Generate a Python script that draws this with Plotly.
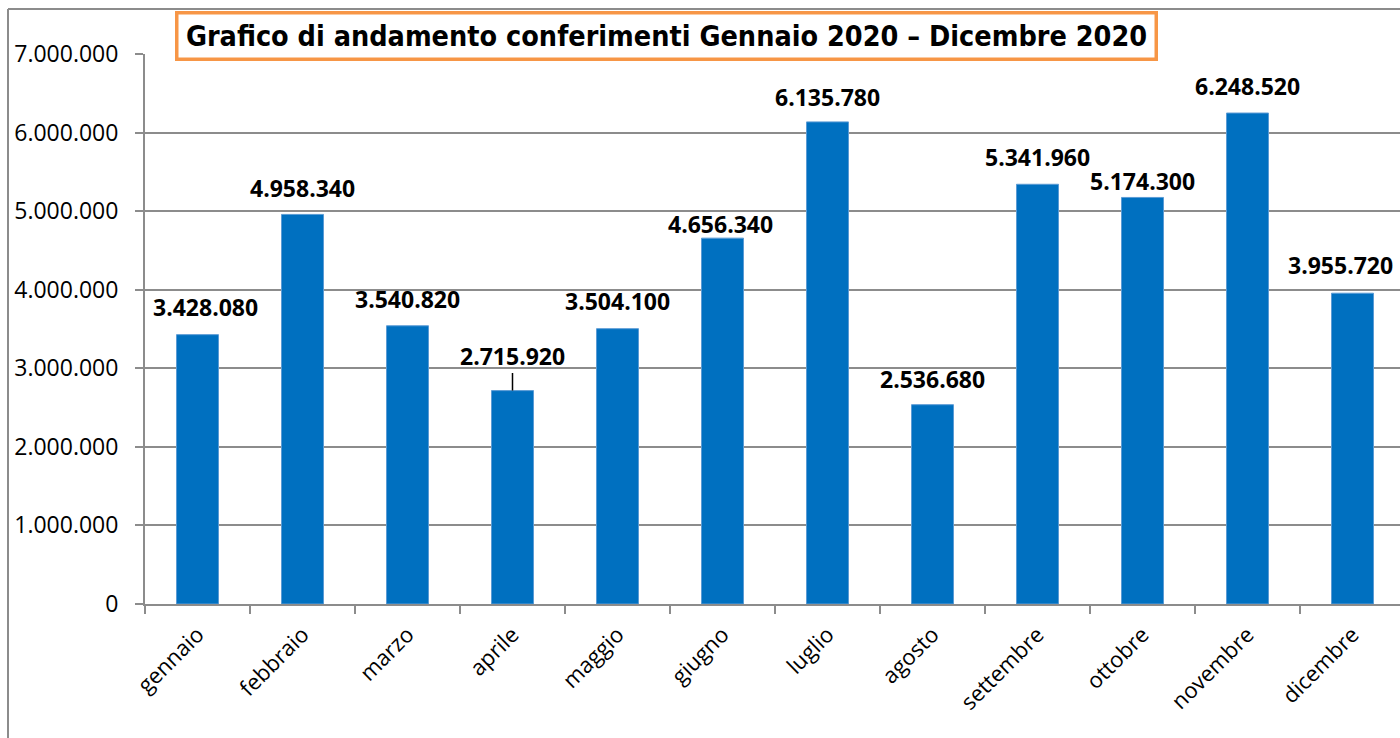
import plotly.graph_objects as go

months = ["gennaio", "febbraio", "marzo", "aprile", "maggio", "giugno",
          "luglio", "agosto", "settembre", "ottobre", "novembre", "dicembre"]
values = [3428080, 4958340, 3540820, 2715920, 3504100, 4656340,
          6135780, 2536680, 5341960, 5174300, 6248520, 3955720]
y_ticks = [0, 1000000, 2000000, 3000000, 4000000, 5000000, 6000000, 7000000]
title_text = "Grafico di andamento conferimenti Gennaio 2020 – Dicembre 2020"

# label placement (pixels above bar top, horizontal shift)
label_yshift = [28, 26, 27, 35, 28, 14, 25, 26, 27, 16, 27, 28]
label_xshift = [8, 0, 0, 0, 0, -2, 0, 0, 0, 0, 0, -12]
label_leader = [False, False, False, True, False, False, False, False, False, False, False, False]

W, H = 1400, 738
L, R, T, B = 145, 0, 54, 134
pw, ph = W - L - R, H - T - B


def px2paper_x(px):
    return (px - L) / pw


def px2paper_y(py):
    return (H - B - py) / ph


def fmt(v):
    return f"{v:,}".replace(",", ".")


grey = "#8c8c8c"
fig = go.Figure()
fig.add_trace(go.Bar(
    x=months, y=values, width=0.4,
    marker=dict(color="#0070C0", line=dict(color="#5B9BD5", width=1)),
    hoverinfo="x+y",
))

annotations = []
for m, v, ys, xs, lead in zip(months, values, label_yshift, label_xshift, label_leader):
    if lead:
        annotations.append(dict(
            x=m, y=v, xref="x", yref="y", text=fmt(v), showarrow=True,
            arrowhead=0, arrowwidth=1.5, arrowcolor="black", ax=xs, ay=-ys,
            font=dict(family="Open Sans", size=23, color="black", weight="bold"),
        ))
    else:
        annotations.append(dict(
            x=m, y=v, xref="x", yref="y", text=fmt(v), showarrow=False,
            yshift=ys, xshift=xs, yanchor="middle",
            font=dict(family="Open Sans", size=23, color="black", weight="bold"),
        ))

annotations.append(dict(
    x=px2paper_x(666), y=px2paper_y(36), xref="paper", yref="paper",
    text=f"<b>{title_text}</b>", showarrow=False, xanchor="center", yanchor="middle",
    font=dict(family="Liberation Sans Narrow, DejaVu Sans Condensed, Liberation Sans",
              size=28.5, color="black"),
    bgcolor="white", bordercolor="#F79646", borderwidth=3.5, borderpad=0,
    width=976, height=43,
))

shapes = [
    dict(type="line", xref="paper", yref="paper",
         x0=px2paper_x(8), x1=px2paper_x(8), y0=px2paper_y(9), y1=px2paper_y(745),
         line=dict(color=grey, width=2)),
    dict(type="line", xref="paper", yref="paper",
         x0=px2paper_x(8), x1=px2paper_x(1405), y0=px2paper_y(9), y1=px2paper_y(9),
         line=dict(color=grey, width=2)),
]

fig.update_layout(
    width=W, height=H,
    margin=dict(l=L, r=R, t=T, b=B, pad=0),
    paper_bgcolor="white", plot_bgcolor="white",
    separators=",.",
    showlegend=False,
    annotations=annotations,
    shapes=shapes,
    bargap=0.6,
    font=dict(family="Open Sans", color="black"),
)
fig.update_xaxes(
    range=[-0.5, -0.5 + pw / 105.0],
    tickson="boundaries", ticks="outside", ticklen=8, tickcolor=grey, tickwidth=2,
    showline=True, linecolor=grey, linewidth=2,
    showgrid=False, tickangle=-45,
    tickfont=dict(family="Open Sans", size=22, color="black"),
    ticklabelstandoff=7,
)
fig.update_yaxes(
    range=[0, 7000000], tickvals=y_ticks, tickformat=",d",
    ticks="outside", ticklen=8, tickcolor=grey, tickwidth=2,
    showline=True, linecolor=grey, linewidth=2,
    showgrid=True, gridcolor=grey, gridwidth=1.5,
    zeroline=False,
    tickfont=dict(family="Open Sans", size=23, color="black"),
    ticklabelstandoff=12,
)

fig.write_html("out.html", config={"displayModeBar": False},
               post_script="document.body.style.margin='0';document.body.style.overflow='hidden';")
